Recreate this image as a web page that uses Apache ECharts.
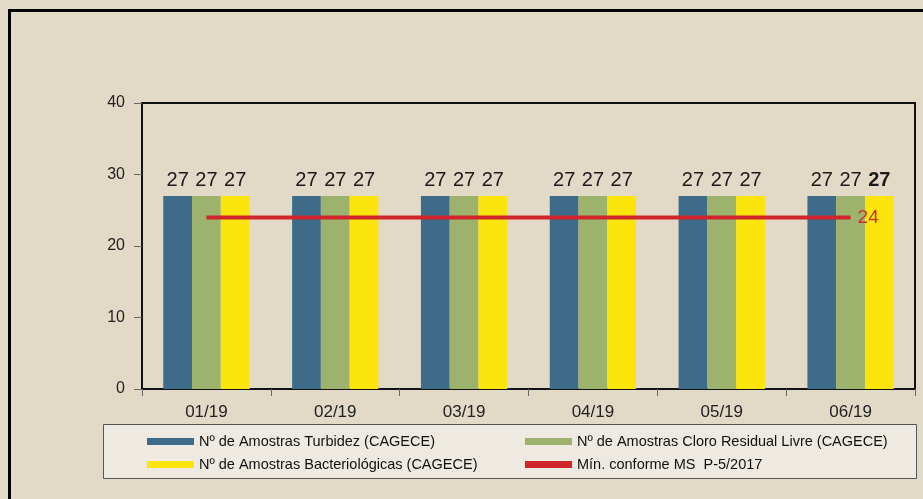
<!DOCTYPE html>
<html>
<head>
<meta charset="utf-8">
<script src="https://cdn.jsdelivr.net/npm/echarts@6/dist/echarts.min.js"></script>
<style>
html,body{margin:0;padding:0;background:#e4dac9;}
#c{width:923px;height:499px;}
</style>
</head>
<body>
<div id="c"></div>
<script>
var categories = ['01/19','02/19','03/19','04/19','05/19','06/19'];
var turbidez = [27,27,27,27,27,27];
var cloro = [27,27,27,27,27,27];
var bacterio = [27,27,27,27,27,27];
var minimo = [24,24,24,24,24,24];
var names = ['Nº de Amostras Turbidez (CAGECE)','Nº de Amostras Cloro Residual Livre (CAGECE)','Nº de Amostras Bacteriológicas (CAGECE)','Mín. conforme MS  P-5/2017'];

var chart = echarts.init(document.getElementById('c'), null, {renderer:'canvas'});
var font = 'Arial, "Liberation Sans", sans-serif';
var barLabel = {show:true, position:'top', color:'#1a1a1a', fontSize:20, fontFamily:font, distance:5};
var bacData = bacterio.map(function(v,i){
  return i === bacterio.length-1 ? {value:v, label:{fontWeight:'bold'}} : v;
});
chart.setOption({
  backgroundColor:'#e3d9c7',
  animation:false,
  graphic:[
    {type:'rect', shape:{x:9.5, y:10.5, width:930, height:500}, style:{fill:'none', stroke:'#000', lineWidth:3}, z:100},
    {type:'rect', shape:{x:103.5, y:424.5, width:813, height:54}, style:{fill:'#eeeae2', stroke:'#555', lineWidth:1}, z:0}
  ],
  grid:{left:142, right:8, top:103, bottom:110, show:true, borderColor:'#111', borderWidth:2, backgroundColor:'transparent'},
  legend:[
    {orient:'vertical', left:142, top:429, itemGap:8, itemWidth:47, itemHeight:7, icon:'rect',
     textStyle:{fontSize:14.5, fontFamily:font, color:'#111'}, data:[names[0], names[2]]},
    {orient:'vertical', left:520, top:429, itemGap:8, itemWidth:47, itemHeight:7, icon:'rect',
     textStyle:{fontSize:14.5, fontFamily:font, color:'#111'}, data:[names[1], {name:names[3], icon:'rect'}]}
  ],
  xAxis:{type:'category', data:categories,
    axisLine:{lineStyle:{color:'#111', width:2}},
    axisTick:{show:true, length:7, lineStyle:{color:'#666'}},
    axisLabel:{color:'#222', fontSize:17, fontFamily:font, margin:15}},
  yAxis:{type:'value', min:0, max:40, interval:10,
    axisLine:{show:true, lineStyle:{color:'#111', width:2}},
    axisTick:{show:true, length:8, lineStyle:{color:'#666'}},
    splitLine:{show:false},
    axisLabel:{color:'#222', fontSize:16, fontFamily:font, margin:17}},
  series:[
    {name:names[0], type:'bar', data:turbidez, itemStyle:{color:'#3e6b89'}, barGap:'0%', barCategoryGap:'33%', label:barLabel},
    {name:names[1], type:'bar', data:cloro, itemStyle:{color:'#9db26c'}, label:barLabel},
    {name:names[2], type:'bar', data:bacData, itemStyle:{color:'#fbe50c'}, label:barLabel},
    {name:names[3], type:'line', data:minimo, symbol:'none', z:10,
     lineStyle:{color:'#d0262b', width:4}, itemStyle:{color:'#d0262b'},
     endLabel:{show:true, formatter:function(p){return String(p.value);}, color:'#cc3026', fontSize:19, fontFamily:font, distance:7}}
  ]
});
</script>
</body>
</html>
